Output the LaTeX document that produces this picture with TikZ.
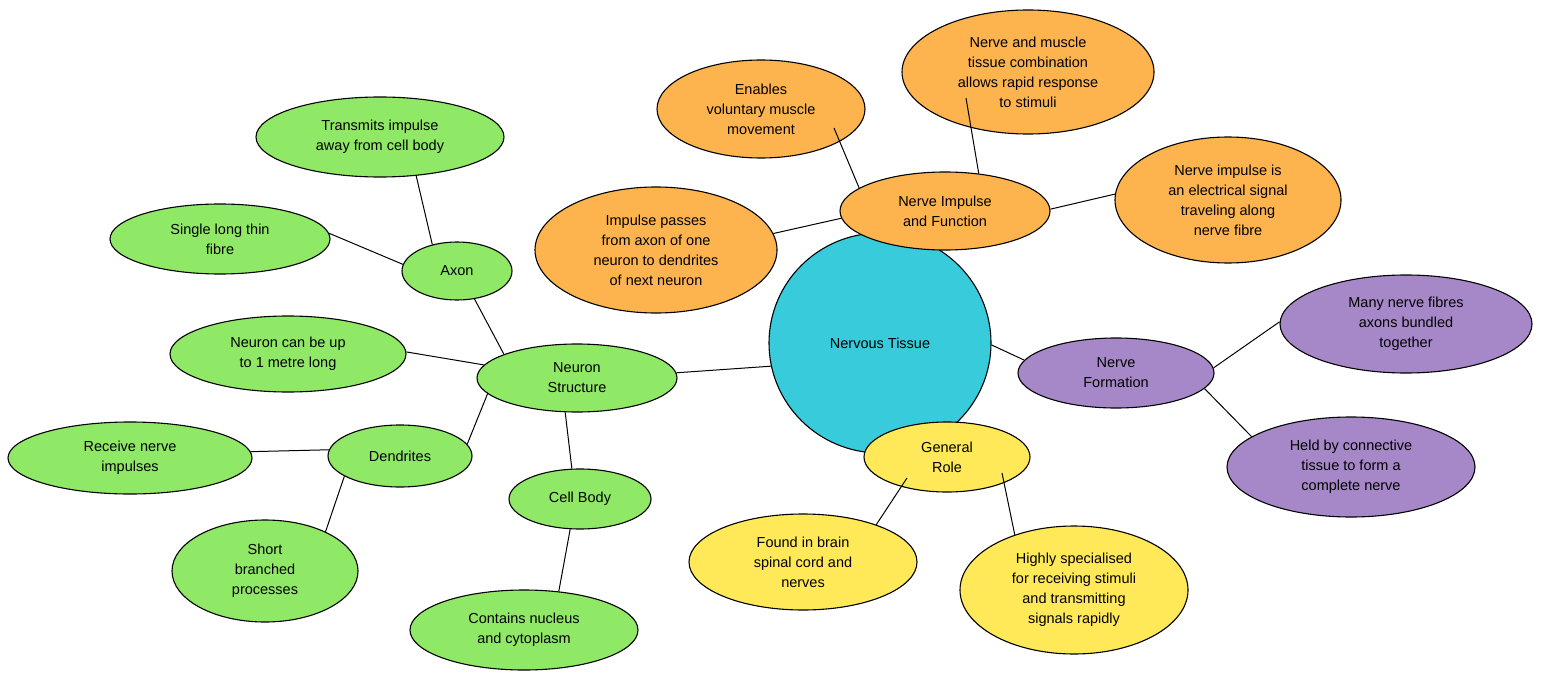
\documentclass[tikz,border=0pt]{standalone}
\usepackage{fontspec}
\setmainfont{Liberation Sans}
\usetikzlibrary{shapes.geometric}
\definecolor{cgreen}{HTML}{8FE866}
\definecolor{corange}{HTML}{FDB44E}
\definecolor{ccyan}{HTML}{37CBDC}
\definecolor{cpurple}{HTML}{A688C8}
\definecolor{cyellow}{HTML}{FFE958}
\tikzset{
  bub/.style={ellipse, draw=black, line width=1.1pt, inner sep=0pt, align=center,
    font=\fontsize{14.5}{20}\selectfont},
  gr/.style={bub, fill=cgreen},
  orr/.style={bub, fill=corange},
  cy/.style={bub, fill=ccyan},
  pu/.style={bub, fill=cpurple},
  ye/.style={bub, fill=cyellow},
  sz/.style 2 args={minimum width=#1pt, minimum height=#2pt},
  link/.style={draw=black, line width=1pt}
}
\begin{document}
\begin{tikzpicture}[x=1pt,y=-1pt]
\useasboundingbox (0,0) rectangle (1541,679);
% center
\node[cy, sz={222}{220}] (nt) at (880,343) {Nervous Tissue};
% orange group
\node[orr, sz={210}{78}] (nif) at (945,211) {Nerve Impulse\\and Function};
\node[orr, sz={208}{98}] (ena) at (761,109) {Enables\\voluntary muscle\\movement};
\node[orr, sz={252}{124}] (nmt) at (1028,72) {Nerve and muscle\\tissue combination\\allows rapid response\\to stimuli};
\node[orr, sz={226}{126}] (nie) at (1228,200) {Nerve impulse is\\an electrical signal\\traveling along\\nerve fibre};
\node[orr, sz={242}{126}] (ipa) at (656,250) {Impulse passes\\from axon of one\\neuron to dendrites\\of next neuron};
% purple group
\node[pu, sz={196}{70}] (nf) at (1116,373) {Nerve\\Formation};
\node[pu, sz={252}{98}] (mnf) at (1406,324) {Many nerve fibres\\axons bundled\\together};
\node[pu, sz={248}{100}] (hbc) at (1351,467) {Held by connective\\tissue to form a\\complete nerve};
% yellow group
\node[ye, sz={166}{70}] (gr) at (947,457) {General\\Role};
\node[ye, sz={228}{96}] (fib) at (803,562) {Found in brain\\spinal cord and\\nerves};
\node[ye, sz={228}{128}] (hsp) at (1074,590) {Highly specialised\\for receiving stimuli\\and transmitting\\signals rapidly};
% green group
\node[gr, sz={200}{68}] (ns) at (577,378) {Neuron\\Structure};
\node[gr, sz={110}{58}] (ax) at (457,271) {Axon};
\node[gr, sz={248}{80}] (tia) at (380,137) {Transmits impulse\\away from cell body};
\node[gr, sz={220}{70}] (slt) at (220,239) {Single long thin\\fibre};
\node[gr, sz={236}{76}] (ncb) at (288,354) {Neuron can be up\\to 1 metre long};
\node[gr, sz={144}{62}] (den) at (400,456) {Dendrites};
\node[gr, sz={244}{72}] (rni) at (130,458) {Receive nerve\\impulses};
\node[gr, sz={186}{102}] (sbp) at (265,571) {Short\\branched\\processes};
\node[gr, sz={142}{60}] (cb) at (580,499) {Cell Body};
\node[gr, sz={228}{80}] (cnc) at (524,630) {Contains nucleus\\and cytoplasm};
% connectors
\draw[link] (nt.192) -- (ns.3);
\draw[link] (nt.-1) -- (nf.172);
\draw[link] (ena.center) ++(73,19) -- (nif.165);
\draw[link] (nmt.center) ++(-62,26) -- (nif.48);
\draw[link] (nif.1) -- (nie.177);
\draw[link] (nif.184) -- (ipa.8);
\draw[link] (nf.3) -- (mnf.179);
\draw[link] (nf.-10) -- (hbc.163);
\draw[link] (gr.center) ++(-40,21) -- (fib.27);
\draw[link] (gr.center) ++(55,16) -- (hsp.137);
\draw[link] (ns.162) -- (ax.-58);
\draw[link] (ax.133) -- (tia.-47);
\draw[link] (ax.173) -- (slt.3);
\draw[link] (ns.172) -- (ncb.1);
\draw[link] (ns.190) -- (den.10);
\draw[link] (den.175) -- (rni.3);
\draw[link] (den.200) -- (sbp.33);
\draw[link] (ns.251) -- (cb.105);
\draw[link] (cb.252) -- (cnc.48);
\end{tikzpicture}
\end{document}
